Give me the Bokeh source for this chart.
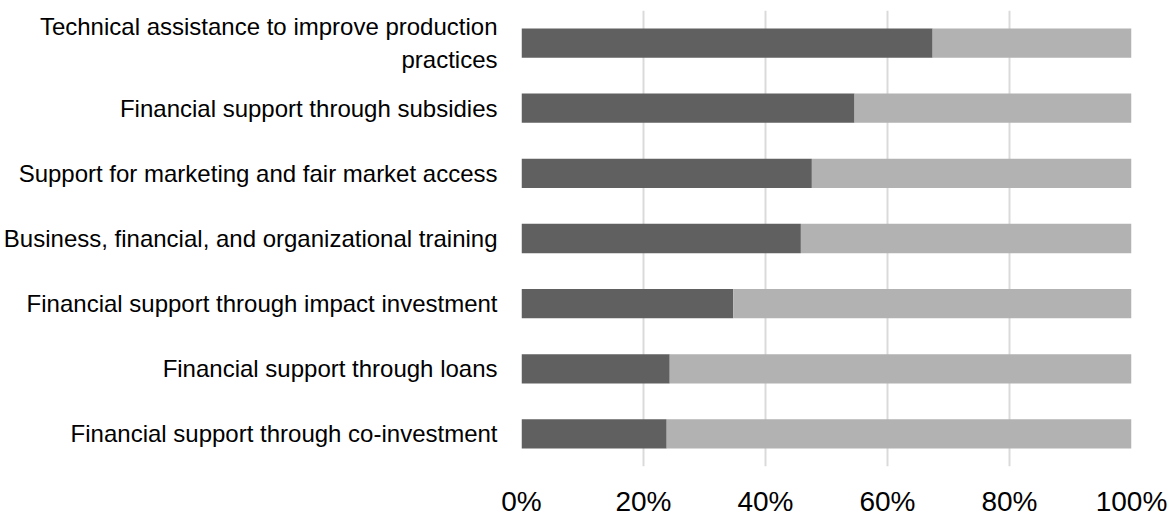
from bokeh.plotting import figure
from bokeh.models import FactorRange, Range1d, NumeralTickFormatter, FixedTicker, ColumnDataSource
from bokeh.embed import file_html
from bokeh.resources import INLINE

categories = [
    "Technical assistance to improve production\npractices",
    "Financial support through subsidies",
    "Support for marketing and fair market access",
    "Business, financial, and organizational training",
    "Financial support through impact investment",
    "Financial support through loans",
    "Financial support through co-investment",
]
share_yes = [0.674, 0.546, 0.476, 0.458, 0.347, 0.243, 0.238]
share_no = [round(1 - v, 3) for v in share_yes]
x_ticks = [0, 0.2, 0.4, 0.6, 0.8, 1.0]

src = ColumnDataSource(dict(cat=categories, yes=share_yes, no=share_no))

p = figure(
    width=1168, height=519,
    y_range=FactorRange(factors=categories[::-1], range_padding=0),
    x_range=Range1d(0, 1),
    output_backend="svg", toolbar_location=None,
    min_border_left=520, min_border_right=37, min_border_top=10, min_border_bottom=53,
)

p.hbar_stack(["yes", "no"], y="cat", height=0.45, source=src,
             color=["#606060", "#b2b2b2"], line_color=None)

p.outline_line_color = None
p.xgrid.grid_line_color = "#dadada"
p.xgrid.grid_line_width = 2
p.ygrid.grid_line_color = None

p.xaxis.ticker = FixedTicker(ticks=x_ticks)
p.xaxis.formatter = NumeralTickFormatter(format="0%")
p.xaxis.axis_line_color = None
p.xaxis.major_tick_line_color = None
p.xaxis.minor_tick_line_color = None
p.xaxis.major_tick_out = 0
p.xaxis.major_label_standoff = 19
p.xaxis.major_label_text_font = "Liberation Sans"
p.xaxis.major_label_text_font_size = "28px"
p.xaxis.major_label_text_color = "#000000"

p.yaxis.axis_line_color = None
p.yaxis.major_tick_line_color = None
p.yaxis.major_tick_out = 0
p.yaxis.major_label_standoff = 24
p.yaxis.major_label_text_font = "Liberation Sans"
p.yaxis.major_label_text_font_size = "24px"
p.yaxis.major_label_text_color = "#000000"

open("out.html", "w").write(file_html(p, INLINE))
